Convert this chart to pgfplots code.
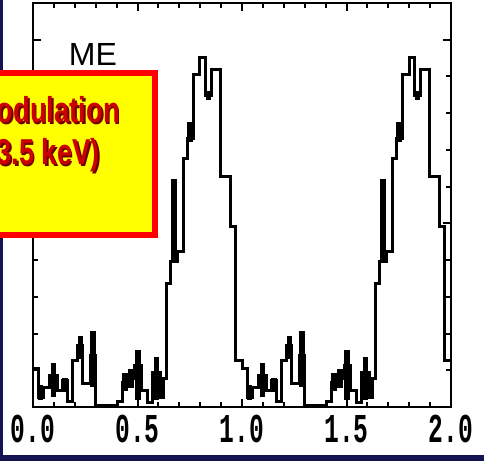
\documentclass[border=0pt]{standalone}
\usepackage{pgfplots}
\pgfplotsset{compat=1.18}
\usepackage{fontspec}
\setmainfont{Liberation Sans}
\newfontfamily\plotfont[FakeStretch=0.6]{Liberation Mono}
\newfontfamily\boxfont[FakeStretch=0.76]{Liberation Sans}
\definecolor{navy}{RGB}{20,20,82}
\definecolor{boxyellow}{RGB}{255,255,0}
\definecolor{boxred}{RGB}{255,0,0}
\definecolor{textred}{RGB}{204,0,0}
\definecolor{shadowred}{RGB}{110,0,0}

\begin{document}
\begin{tikzpicture}[x=1bp,y=1bp]
\path[use as bounding box] (0,0) rectangle (484,461);
% page background and dark frame strips
\fill[white] (0,0) rectangle (484,461);
\fill[navy] (0,0) rectangle (3,461);
\fill[navy] (0,0) rectangle (484,6);

\begin{axis}[
  at={(33bp,54bp)}, anchor=south west,
  width=418bp, height=404bp, scale only axis,
  xmin=0, xmax=2, ymin=0, ymax=11,
  axis line style={line width=2.8bp},
  tick pos=both, tick align=inside,
  xtick={0,0.5,1,1.5,2}, minor x tick num=4,
  ytick={0,5,10}, minor y tick num=4,
  yticklabels={},
  xticklabels={0.0,0.5,1.0,1.5,2.0},
  major tick length=8bp, minor tick length=5bp,
  every tick/.style={black, line width=2bp},
  xticklabel style={font=\plotfont\bfseries\fontsize{41bp}{41bp}\selectfont, anchor=base, yshift=-36bp, inner sep=0pt},
  clip=false,
]
% pulse profile, two cycles, step histogram
\addplot[const plot, black, line width=3bp, line join=miter] coordinates {
 (0.000,1.05) (0.024,0.27) (0.048,0.54) (0.081,0.86) (0.115,0.46)
 (0.139,0.73) (0.163,0.14) (0.191,1.27) (0.215,1.68) (0.239,0.65)
 (0.273,1.40) (0.301,0.05) (0.402,0.14) (0.426,0.68) (0.455,0.78)
 (0.488,1.14) (0.517,0.46) (0.550,0.11) (0.574,0.95) (0.608,0.27)
 (0.622,0.78) (0.641,3.35) (0.656,3.97) (0.689,4.24) (0.718,6.76)
 (0.737,7.30) (0.766,9.05) (0.799,9.51) (0.823,8.49) (0.856,9.19)
 (0.895,6.27) (0.943,4.92) (0.967,1.27)
 (1.000,1.05) (1.024,0.27) (1.048,0.54) (1.081,0.86) (1.115,0.46)
 (1.139,0.73) (1.163,0.14) (1.191,1.27) (1.215,1.68) (1.239,0.65)
 (1.273,1.40) (1.301,0.05) (1.402,0.14) (1.426,0.68) (1.455,0.78)
 (1.488,1.14) (1.517,0.46) (1.550,0.11) (1.574,0.95) (1.608,0.27)
 (1.622,0.78) (1.641,3.35) (1.656,3.97) (1.689,4.24) (1.718,6.76)
 (1.737,7.30) (1.766,9.05) (1.799,9.51) (1.823,8.49) (1.856,9.19)
 (1.895,6.27) (1.943,4.92) (1.967,1.27) (2.000,1.27)
};
% statistical errors on selected bins
\addplot[draw=none, mark=none,
  error bars/.cd, y dir=both, y explicit,
  error bar style={line width=5.5bp, black}, error mark=none]
 coordinates {
 (0.036,0.40) +- (0,0.20)
 (0.098,0.74) +- (0,0.47)
 (0.152,0.60) +- (0,0.20)
 (0.227,1.62) +- (0,0.30)
 (0.287,1.31) +- (0,0.77)
 (0.440,0.68) +- (0,0.25)
 (0.470,0.78) +- (0,0.25)
 (0.503,0.86) +- (0,0.68)
 (0.591,0.77) +- (0,0.58)
 (0.675,5.10) +- (0,1.12)
 (0.752,7.49) +- (0,0.27)
 (0.840,8.49) +- (0,0.12)
 (1.036,0.40) +- (0,0.20)
 (1.098,0.74) +- (0,0.47)
 (1.152,0.60) +- (0,0.20)
 (1.227,1.62) +- (0,0.30)
 (1.287,1.31) +- (0,0.77)
 (1.440,0.68) +- (0,0.25)
 (1.470,0.78) +- (0,0.25)
 (1.503,0.86) +- (0,0.68)
 (1.591,0.77) +- (0,0.58)
 (1.675,5.10) +- (0,1.12)
 (1.752,7.49) +- (0,0.27)
 (1.840,8.49) +- (0,0.12)
};
\node[font=\fontsize{32bp}{32bp}\selectfont, inner sep=0pt] at (axis cs:0.287,9.6) {ME};
\end{axis}

% caption box, running off the left edge
\begin{scope}
\clip (0,0) rectangle (484,461);
\draw[boxred, fill=boxyellow, line width=6bp] (-10,226) rectangle (155,388);
\begin{scope}[font=\boxfont\bfseries\fontsize{36bp}{36bp}\selectfont]
\node[anchor=base east, inner sep=0pt, text=shadowred] at (121.8,336.2) {odulation};
\node[anchor=base east, inner sep=0pt, text=textred] at (120,338) {odulation};
\node[anchor=base east, inner sep=0pt, text=shadowred] at (101.8,294.2) {3.5 keV)};
\node[anchor=base east, inner sep=0pt, text=textred] at (100,296) {3.5 keV)};
\end{scope}
\end{scope}
\end{tikzpicture}
\end{document}
